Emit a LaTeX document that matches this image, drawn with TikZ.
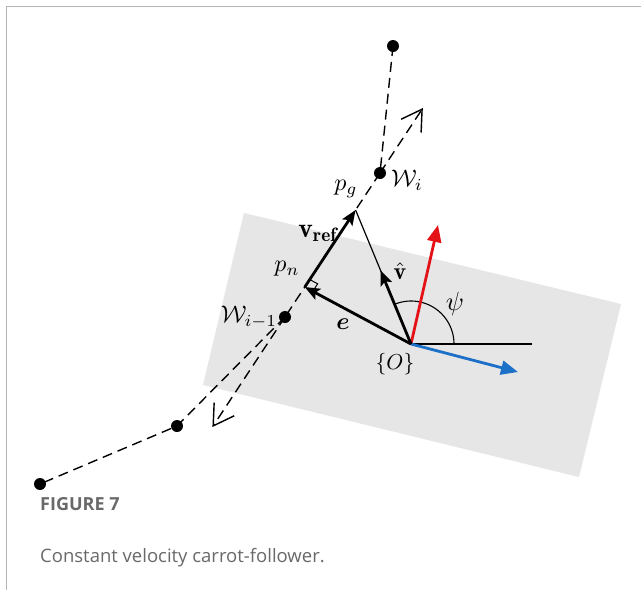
\documentclass[tikz,border=0pt]{standalone}
\usepackage{amsmath,bm}
\usepackage{fontspec}
\newfontfamily\capfont{Open Sans}
\usetikzlibrary{calc,arrows.meta}
\definecolor{framegray}{RGB}{180,180,180}
\definecolor{panel}{RGB}{230,230,230}
\definecolor{capgray}{RGB}{105,105,105}
\definecolor{myred}{RGB}{228,18,22}
\definecolor{myblue}{RGB}{28,112,200}
\begin{document}
\begin{tikzpicture}[x=1pt,y=-1pt,
  dot/.style={circle,fill=black,inner sep=0pt,minimum size=12pt},
  wpath/.style={dash pattern=on 10pt off 6pt, line width=1.4pt},
  dirarrow/.style={wpath, -{Straight Barb[length=20pt,width=24pt,line width=1.4pt]}},
  vec/.style={line width=2.8pt, -{Stealth[length=15pt,width=12pt,inset=3pt]}},
  cvec/.style={line width=2.8pt, -{Triangle[length=17pt,width=14pt]}},
  thinline/.style={line width=1.2pt},
  lab/.style={scale=2.4, inner sep=0.5pt}]
\useasboundingbox (0,0) rectangle (641,590);
\fill[white] (0,0) rectangle (641,590);
\draw[framegray, line width=1.5pt] (6.5,590) -- (6.5,6.5) -- (641,6.5);
\fill[panel] (244,213) -- (621,304) -- (579,477) -- (203,385) -- cycle;

% waypoints
\node[dot] (Wa) at (285,317) {};
\node[dot] (Wb) at (380,173) {};
\node[dot] (Wc) at (393,46) {};
\node[dot] (Wd) at (177,426) {};
\node[dot] (We) at (40,484) {};
\coordinate (O) at (411,344);
\coordinate (pn) at ($(Wa.center)!0.208!(Wb.center)$);
\coordinate (pg) at ($(Wa.center)!0.743!(Wb.center)$);
\coordinate (fwd) at ($(Wb.center)!-0.451!(Wa.center)$);
\coordinate (bwd) at ($(Wa.center)!-0.764!(Wb.center)$);
\coordinate (vh) at ($(O)!0.55!(pg)$);
\coordinate (redtip) at (438,225);
\coordinate (bluetip) at (518,372);
\coordinate (hx) at (532,344);

% dashed path
\draw[wpath] (Wc.center) -- (Wb.center);
\draw[wpath] (Wb.center) -- (Wa.center);
\draw[wpath] (Wa.center) -- (Wd.center) -- (We.center);
\draw[dirarrow] (Wb.center) -- (fwd);
\draw[dirarrow] (Wa.center) -- (bwd);

% geometry
\draw[thinline] (O) -- (pg);
\draw[thinline] (O) -- (hx);
\draw[line width=1.1pt] plot[domain=0:112,samples=50] ({411+43*cos(\x)},{344-43*sin(\x)});
\coordinate (ra1) at ($(pn)!9pt!(pg)$);
\coordinate (ra2) at ($(pn)!9pt!(O)$);
\draw[line width=1pt] (ra1) -- ($(ra1)+(ra2)-(pn)$) -- (ra2);

\draw[cvec, myred] (O) -- (redtip);
\draw[cvec, myblue] (O) -- (bluetip);
\draw[vec] (O) -- (pn);
\draw[vec] (pn) -- (pg);
\draw[vec] (O) -- (vh);

% labels
\node[lab] (lpg) at (346,189) {$p_g$};
\node[lab] (lWi) at (407,180) {$\mathcal{W}_i$};
\node[lab, scale=1.15] (lvref) at (318,233) {$\mathbf{v}_{\mathbf{ref}}$};
\node[lab] (lpn) at (287,269) {$p_n$};
\node[lab] (lWa) at (249,317) {$\mathcal{W}_{i-1}$};
\node[lab] (le) at (343,324) {$\boldsymbol{e}$};
\node[lab] (lvh) at (400,271) {$\hat{\mathbf{v}}$};
\node[lab, scale=1.1] (lpsi) at (455,304) {$\psi$};
\node[lab, scale=0.9] (lO) at (395,364) {$\{O\}$};

% caption
\node[anchor=base west, font=\capfont\bfseries\fontsize{18}{21}\selectfont, text=capgray, inner sep=0pt] (fig) at (40,510) {FIGURE 7};
\node[anchor=base west, font=\capfont\fontsize{18.5}{22}\selectfont, text=capgray, inner sep=0pt] (cap) at (40,562) {Constant velocity carrot-follower.};
\end{tikzpicture}
\end{document}
